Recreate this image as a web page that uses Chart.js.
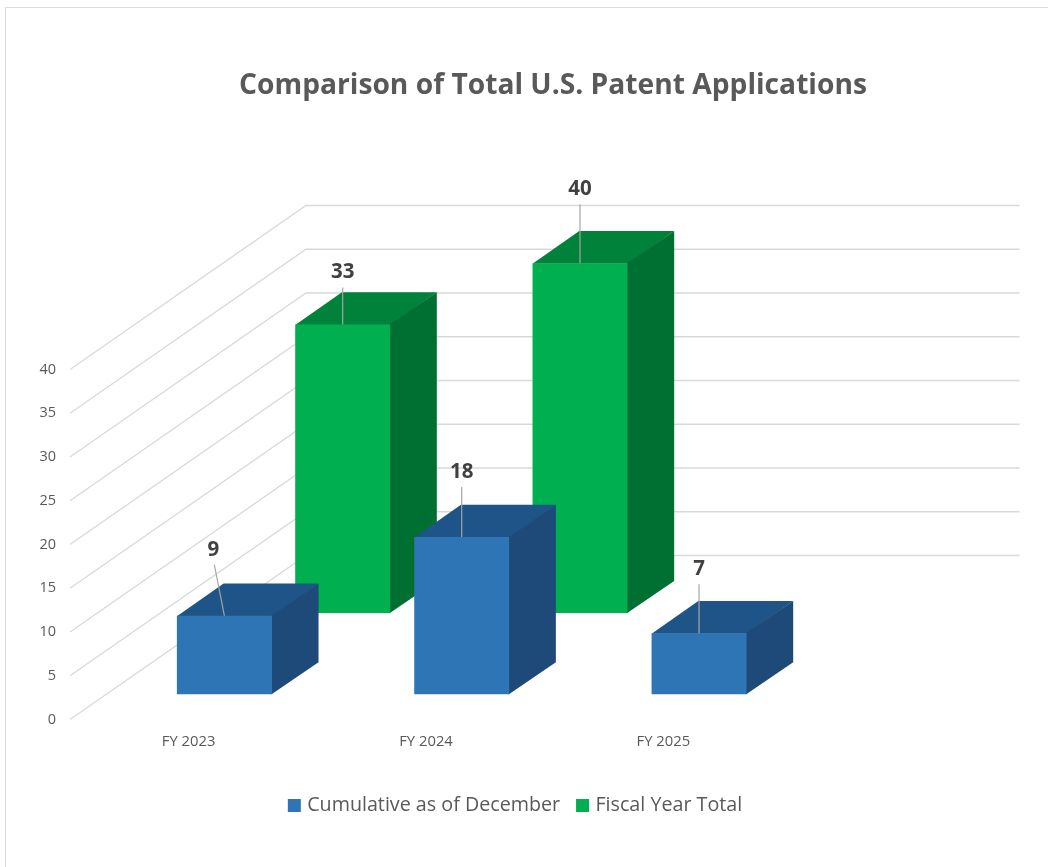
<!DOCTYPE html>
<html>
<head>
<meta charset="utf-8">
<title>Comparison of Total U.S. Patent Applications</title>
<script src="https://cdn.jsdelivr.net/npm/chart.js@4"></script>
<style>
  body { margin: 0; background: #fff; }
  #frame { position: absolute; left: 5px; top: 7px; right: 0; bottom: 0; border-left: 1px solid #dcdcdc; border-top: 1px solid #dcdcdc; }
  canvas { position: absolute; left: 0; top: 0; }
</style>
</head>
<body>
<div id="frame"></div>
<canvas id="chart" width="1048" height="867"></canvas>
<script>
// Data
const categories = ["FY 2023", "FY 2024", "FY 2025"]
const cumulativeDecember = [9, 18, 7]
const fiscalYearTotal = [33, 40, null]
const yTicksMax = 40
const yTickStep = 5

const FONT = "'Open Sans', sans-serif"

// 3D look: how far each series sits back on the floor, and the box depth
const wallDepth = { x: 236, y: -164 }
const boxDepth = { x: 46.7, y: -32.3 }
const seriesShift = [
  { x: 35.7, y: -25, top: "#1f5488", side: "#1d4a78" },
  { x: 154, y: -106.3, top: "#00823a", side: "#007032" },
]
// Length of the leader line above each bar, and the sideways lean of its tip
const leaderLift = [[51, 50, 49], [37, 59, 0]]
const leaderLean = [[-10, 0, 0], [0, 0, 0]]

function polygon(ctx, pts, color) {
  ctx.fillStyle = color
  ctx.beginPath()
  pts.forEach((p, i) => (i ? ctx.lineTo(p[0], p[1]) : ctx.moveTo(p[0], p[1])))
  ctx.closePath()
  ctx.fill()
}

const walls3d = {
  id: "walls3d",
  // Title and legend are not centred on the plot, so put them where they belong
  afterLayout(chart) {
    chart.titleBlock.left = 153
    chart.titleBlock.right = 953
    chart.legend.left = 166.75
    chart.legend.right = 866.75
  },
  beforeDatasetsDraw(chart) {
    const { ctx, chartArea, scales } = chart
    ctx.save()
    ctx.strokeStyle = "#d9d9d9"
    ctx.lineWidth = 1.3
    scales.y.ticks.forEach((t) => {
      const y = scales.y.getPixelForValue(t.value)
      const backX = chartArea.left + wallDepth.x
      ctx.beginPath()
      ctx.moveTo(chartArea.left, y)
      ctx.lineTo(backX, y + wallDepth.y)
      ctx.lineTo(chartArea.right + wallDepth.x + 1.5, y + wallDepth.y)
      ctx.stroke()
    })
    ctx.restore()
  },
  // Shift the real bars back on the floor and put a top and a side on them
  beforeDatasetDraw(chart, args) {
    const { ctx } = chart
    const shift = seriesShift[args.index]
    ctx.save()
    ctx.translate(shift.x, shift.y)
    args.meta.data.forEach((bar, i) => {
      if (chart.data.datasets[args.index].data[i] == null) return
      const l = bar.x - bar.width / 2
      const r = bar.x + bar.width / 2
      const dx = boxDepth.x
      const dy = boxDepth.y
      // the faces run a little under the front so no seam shows
      polygon(ctx, [[l, bar.y + 0.6], [r, bar.y + 0.6], [r + dx, bar.y + dy], [l + dx, bar.y + dy]], shift.top)
      polygon(ctx, [[r - 0.6, bar.y], [r + dx, bar.y + dy], [r + dx, bar.base + dy], [r - 0.6, bar.base]], shift.side)
    })
  },
  afterDatasetDraw(chart) {
    chart.ctx.restore()
  },
  // Data labels with leader lines
  afterDatasetsDraw(chart) {
    const { ctx } = chart
    ctx.save()
    ctx.textAlign = "center"
    ctx.textBaseline = "middle"
    ctx.font = "bold 20.5px " + FONT
    chart.data.datasets.forEach((ds, d) => {
      const shift = seriesShift[d]
      chart.getDatasetMeta(d).data.forEach((bar, i) => {
        if (ds.data[i] == null) return
        const x = bar.x + shift.x
        const y = bar.y + shift.y
        const tipX = x + leaderLean[d][i]
        const tipY = y - leaderLift[d][i]
        ctx.strokeStyle = "#a6a6a6"
        ctx.lineWidth = 1.2
        ctx.beginPath()
        ctx.moveTo(x, y)
        ctx.lineTo(tipX, tipY)
        ctx.stroke()
        ctx.fillStyle = "#404040"
        ctx.fillText(String(ds.data[i]), tipX - (leaderLean[d][i] ? 1 : 0), tipY - 15)
      })
    })
    ctx.restore()
  },
}

new Chart(document.getElementById("chart"), {
  type: "bar",
  data: {
    labels: categories,
    datasets: [
      {
        label: "Cumulative as of December",
        data: cumulativeDecember,
        backgroundColor: "#2e75b6",
        grouped: false,
        barPercentage: 0.4,
        categoryPercentage: 1,
      },
      {
        label: "Fiscal Year Total",
        data: fiscalYearTotal,
        backgroundColor: "#00b050",
        grouped: false,
        barPercentage: 0.4,
        categoryPercentage: 1,
      },
    ],
  },
  options: {
    responsive: false,
    animation: false,
    layout: { padding: { left: 0, right: 266, top: 0, bottom: 46.9 } },
    scales: {
      x: {
        grid: { display: false },
        border: { display: false },
        ticks: { color: "#595959", font: { family: FONT, size: 14.8 }, padding: 5, maxRotation: 0 },
        afterFit: (scale) => { scale.height = 56.6 },
      },
      y: {
        min: 0,
        max: yTicksMax,
        grid: { display: false },
        border: { display: false },
        ticks: { stepSize: yTickStep, color: "#595959", font: { family: FONT, size: 14.5 }, padding: 6 },
        afterFit: (scale) => { scale.width = 70 },
      },
    },
    plugins: {
      tooltip: { enabled: false },
      title: {
        display: true,
        text: "Comparison of Total U.S. Patent Applications",
        color: "#595959",
        font: { family: FONT, size: 28.2, weight: "bold" },
        padding: { top: 69.08, bottom: 266.58 },
      },
      legend: {
        position: "bottom",
        maxHeight: 44,
        labels: {
          color: "#595959",
          font: { family: FONT, size: 19.7 },
          usePointStyle: true,
          pointStyle: "rect",
          boxWidth: 6,
          boxHeight: 13,
          padding: 19.5,
        },
      },
    },
  },
  plugins: [walls3d],
})
</script>
</body>
</html>
